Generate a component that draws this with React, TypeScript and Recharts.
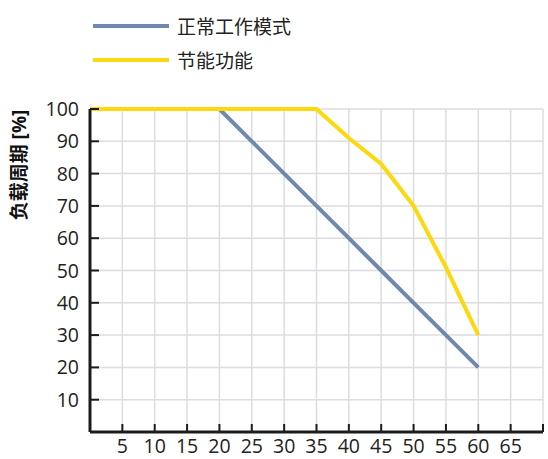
import { LineChart, Line, XAxis, YAxis, CartesianGrid } from "recharts";

const xValues = [0, 5, 10, 15, 20, 25, 30, 35, 40, 45, 50, 55, 60];
const normalMode = [100, 100, 100, 100, 100, 90, 80, 70, 60, 50, 40, 30, 20];
const energySaving = [100, 100, 100, 100, 100, 100, 100, 100, 91, 83, 70, 51, 30];
const xTicks = [5, 10, 15, 20, 25, 30, 35, 40, 45, 50, 55, 60, 65, 70];
const yTicks = [10, 20, 30, 40, 50, 60, 70, 80, 90, 100];

const data = xValues.map((x, i) => ({ x, normal: normalMode[i], saving: energySaving[i] }));

const FONT = "'Open Sans', 'Noto Sans CJK SC', sans-serif";
const BLUE = "#7088ae";
const YELLOW = "#fcd90f";
const AXIS = "#1c1c1c";
const GRID = "#dcdce2";

function XTick(props: { x?: number; y?: number; payload?: { value: number } }) {
  const { x = 0, y = 0, payload } = props;
  const v = payload?.value ?? 0;
  return (
    <g>
      <line x1={x} x2={x} y1={y} y2={y - 8} stroke={AXIS} strokeWidth={2} />
      {v < 70 && (
        <text x={x} y={y + 21} textAnchor="middle" fontSize={19.5} fill="#222" fontFamily={FONT}>
          {v}
        </text>
      )}
    </g>
  );
}

function YTick(props: { x?: number; y?: number; payload?: { value: number } }) {
  const { x = 0, y = 0, payload } = props;
  return (
    <g>
      <line x1={x} x2={x + 9} y1={y} y2={y} stroke={AXIS} strokeWidth={2} />
      <text x={x - 11} y={y + 7} textAnchor="end" fontSize={19.5} fill="#222" fontFamily={FONT}>
        {payload?.value}
      </text>
    </g>
  );
}

function YLabel(props: { viewBox?: { x: number; y: number } }) {
  const vb = props.viewBox ?? { x: 0, y: 0 };
  const cx = 19;
  const cy = vb.y + 56;
  return (
    <text
      x={cx}
      y={cy}
      transform={`rotate(-90 ${cx} ${cy})`}
      textAnchor="middle"
      dominantBaseline="central"
      fontSize={19}
      fontWeight="bold"
      fill="#111"
      fontFamily={FONT}
    >
      负载周期 [%]
    </text>
  );
}

const legendItems = [
  { name: "正常工作模式", color: BLUE, top: 26 },
  { name: "节能功能", color: YELLOW, top: 60 },
];

export default function App() {
  return (
    <div style={{ position: "absolute", left: 0, top: 0, width: 548, height: 459, background: "#fff" }}>
      {legendItems.map((it) => (
        <div key={it.name} style={{ position: "absolute", left: 93, top: it.top - 14, display: "flex", alignItems: "center", height: 28 }}>
          <span style={{ display: "inline-block", width: 76, height: 4, background: it.color }} />
          <span style={{ marginLeft: 8, fontSize: 19, color: "#222", fontFamily: FONT }}>{it.name}</span>
        </div>
      ))}
      <LineChart width={548} height={459} data={data} margin={{ top: 109, right: 5, bottom: 0, left: 30 }}>
        <CartesianGrid stroke={GRID} strokeWidth={1.5} />
        <XAxis
          dataKey="x"
          type="number"
          domain={[0, 70]}
          ticks={xTicks}
          tick={<XTick />}
          tickLine={false}
          tickSize={0}
          tickMargin={0}
          axisLine={{ stroke: AXIS, strokeWidth: 3 }}
          height={27}
          interval={0}
        />
        <YAxis
          type="number"
          domain={[0, 100]}
          ticks={yTicks}
          tick={<YTick />}
          tickLine={false}
          tickSize={0}
          tickMargin={0}
          axisLine={{ stroke: AXIS, strokeWidth: 3 }}
          width={60}
          interval={0}
          label={<YLabel />}
        />
        <Line dataKey="normal" stroke={BLUE} strokeWidth={4} dot={false} isAnimationActive={false} />
        <Line dataKey="saving" stroke={YELLOW} strokeWidth={4} dot={false} isAnimationActive={false} />
      </LineChart>
    </div>
  );
}
